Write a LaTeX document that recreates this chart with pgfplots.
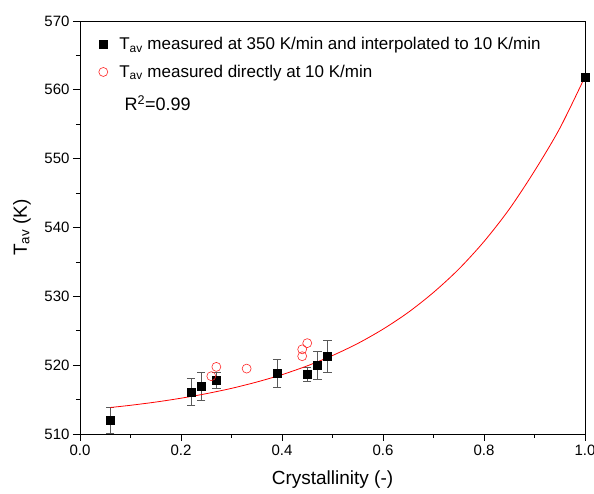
\documentclass[border=0pt]{standalone}
\usepackage{pgfplots}
\pgfplotsset{compat=1.18}
\usepackage{fontspec}
\setmainfont{Liberation Sans}

% squares: T_av at 350 K/min interpolated to 10 K/min (x, y, error)
\pgfplotstableread{
x    y      e
0.06 512.0  1.9
0.22 516.1  1.95
0.24 516.9  2.0
0.27 517.8  1.1
0.39 518.8  2.0
0.45 518.7  1.0
0.47 520.0  2.0
0.49 521.3  2.3
1.00 561.9  0.0
}\interp
\pgfplotstableread{
x    y
0.26 518.4
0.27 519.75
0.33 519.5
0.44 521.3
0.44 522.3
0.45 523.2
}\direct

\begin{document}
\begin{tikzpicture}
\path[use as bounding box] (-80pt,-60pt) rectangle (514pt,434pt);
\begin{axis}[
    scale only axis,
    width=505pt, height=413pt,
    at={(0,0)}, anchor=south west,
    xmin=0, xmax=1, ymin=510, ymax=570,
    xtick={0,0.2,...,1.0}, ytick={510,520,...,570},
    minor tick num=1,
    tick pos=left, tick align=outside,
    major tick length=7pt, minor tick length=4pt,
    every tick/.style={black, line width=0.8pt},
    axis line style={line width=0.9pt},
    xticklabel style={/pgf/number format/.cd, fixed, fixed zerofill, precision=1},
    yticklabel style={/pgf/number format/.cd, fixed, precision=0},
    /pgf/number format/assume math mode=true,
    ticklabel style={font=\fontsize{15}{18}\selectfont},
    label style={font=\fontsize{19}{22}\selectfont},
    xlabel={Crystallinity (-)},
    ylabel={T\textsubscript{av} (K)},
    xlabel style={at={(axis description cs:0.5,-0.111)}, anchor=center},
    ylabel style={at={(axis description cs:-0.115,0.5)}, anchor=center},
    legend style={draw=none, fill=none, at={(0.02,0.966)}, anchor=north west,
        font=\fontsize{17}{20}\selectfont, row sep=12pt, inner sep=1pt,
        nodes={inner sep=1pt}},
    legend cell align=left,
    legend image code/.code={\path[draw=none] (0pt,0pt) (27pt,0pt);
        \draw[#1] plot coordinates {(12pt,0pt)};},
]
\addplot[only marks, mark=square*, mark size=4pt, black,
    error bars/.cd, y dir=both, y explicit,
    error bar style={gray!70!black, line width=0.7pt},
    error mark options={rotate=90, mark size=4.2pt, gray!70!black, line width=0.7pt}]
    table[x=x, y=y, y error=e] {\interp};
\addlegendentry{T\textsubscript{av} measured at 350 K/min and interpolated to 10 K/min}
\addplot[only marks, mark=o, mark size=4.5pt, red!85!white, line width=0.6pt]
    table[x=x, y=y] {\direct};
\addlegendentry{T\textsubscript{av} measured directly at 10 K/min}
% exponential fit
\addplot[red, line width=0.8pt, smooth, forget plot] coordinates {
    (0.06,513.85) (0.10,514.17) (0.15,514.64) (0.20,515.20) (0.25,515.86)
    (0.30,516.63) (0.35,517.55) (0.40,518.62) (0.45,519.90) (0.50,521.40)
    (0.55,523.15) (0.60,525.23) (0.65,527.67) (0.70,530.57) (0.75,533.95)
    (0.80,537.96) (0.85,542.66) (0.90,548.21) (0.95,554.40) (1.00,561.90)
};
\node[anchor=west, inner sep=0pt, font=\fontsize{18}{21}\selectfont] at (axis cs:0.088,558.1) {R\textsuperscript{2}=0.99};
\end{axis}
\end{tikzpicture}
\end{document}
